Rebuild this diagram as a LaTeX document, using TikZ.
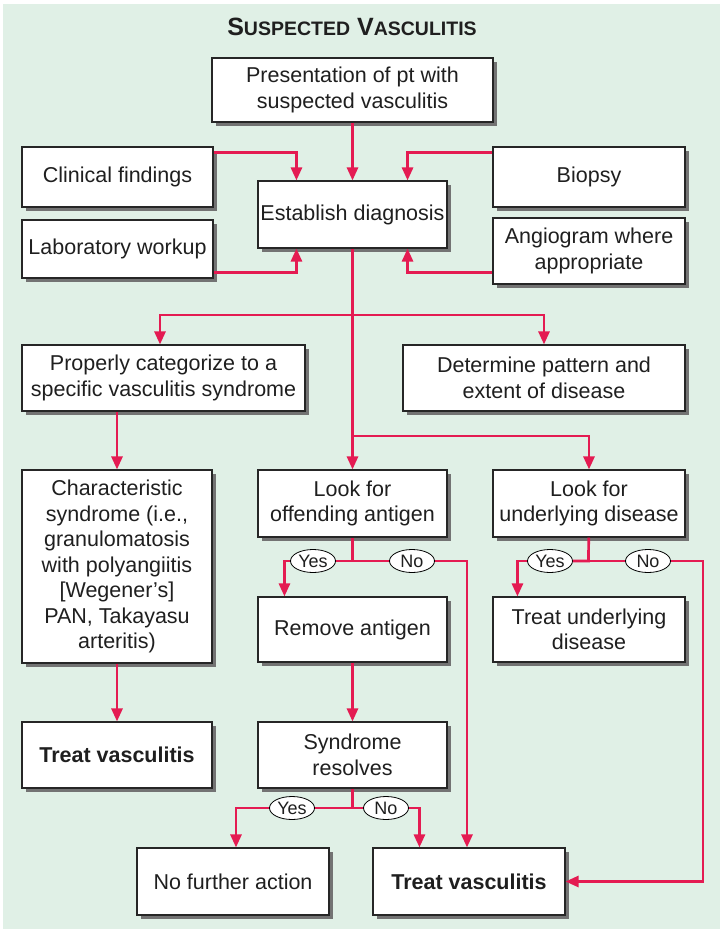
\documentclass[tikz,border=0pt]{standalone}
\usepackage{fontspec}
\setmainfont{Liberation Sans}
\usepackage{tikz}
\usetikzlibrary{shapes.geometric, arrows.meta, calc, shadows}
\definecolor{flowred}{RGB}{228,27,82}
\definecolor{panelgreen}{RGB}{224,240,230}
\tikzset{
    stepbox/.style={draw=black!85, fill=white, line width=1.1pt, align=center,
        minimum width=190pt, minimum height=66pt, inner sep=1pt, text=black!88,
        font=\fontsize{21.5}{25.5}\selectfont,
        drop shadow={shadow xshift=3.5pt, shadow yshift=-3.5pt, fill=black!55, opacity=1}},
    flow/.style={draw=flowred, line width=2.7pt, -{Triangle[length=13pt, width=11pt]}},
    trunk/.style={draw=flowred, line width=2.7pt},
    answer/.style={ellipse, draw=black, fill=white, line width=0.8pt, inner sep=0pt,
        minimum width=45pt, minimum height=23pt, text=black!88, font=\fontsize{18}{18}\selectfont}
}

\begin{document}
\begin{tikzpicture}[x=1pt, y=-1pt]
    \useasboundingbox (0,0) rectangle (723,935);
    \fill[panelgreen] (3,4) rectangle (720,929);

    \node[text=black!88] (title) at (352,27) {\bfseries\fontsize{25}{25}\selectfont S{\fontsize{19.5}{19.5}\selectfont USPECTED} V{\fontsize{19.5}{19.5}\selectfont ASCULITIS}};

    % boxes
    \node[stepbox, minimum width=281pt, minimum height=64pt] (pres) at (352.5,90) {Presentation of pt with\\suspected vasculitis};
    \node[stepbox, minimum width=191pt, minimum height=60pt] (clin) at (117.5,177) {Clinical findings};
    \node[stepbox, minimum width=191pt, minimum height=58pt] (lab) at (117.5,249) {Laboratory workup};
    \node[stepbox, minimum width=189pt, minimum height=67pt] (diag) at (352.5,214.5) {Establish diagnosis};
    \node[stepbox, minimum width=192pt, minimum height=60pt] (biopsy) at (589,177) {Biopsy};
    \node[stepbox, minimum width=192pt, minimum height=66pt] (angio) at (589,251) {Angiogram where\\appropriate};
    \node[stepbox, minimum width=283pt] (categ) at (163.5,378) {Properly categorize to a\\specific vasculitis syndrome};
    \node[stepbox, minimum width=282pt] (pattern) at (544,378) {Determine pattern and\\extent of disease};
    \node[stepbox, minimum height=193pt] (charac) at (117,566.5) {Characteristic\\syndrome (i.e.,\\granulomatosis\\with polyangiitis\\{[Wegener’s]}\\PAN, Takayasu\\arteritis)};
    \node[stepbox, minimum width=189pt, minimum height=67pt] (offend) at (352.5,503.5) {Look for\\offending antigen};
    \node[stepbox, minimum width=192pt, minimum height=67pt] (underl) at (589,503.5) {Look for\\underlying disease};
    \node[stepbox, minimum width=189pt, minimum height=65pt] (remove) at (352.5,629.5) {Remove antigen};
    \node[stepbox, minimum width=192pt, minimum height=65pt] (treatu) at (589,629.5) {Treat underlying\\disease};
    \node[stepbox] (treatl) at (117,755) {\bfseries Treat vasculitis};
    \node[stepbox, minimum width=189pt] (synd) at (352.5,755) {Syndrome\\resolves};
    \node[stepbox, minimum width=192pt, minimum height=67pt] (nofurther) at (233,881.5) {No further action};
    \node[stepbox, minimum width=192pt, minimum height=67pt] (treatb) at (469,881.5) {\bfseries Treat vasculitis};

    % yes / no forks
    \coordinate (split1) at (352.5,315);
    \coordinate (split2) at (352.5,436);
    \coordinate (fork1) at (352.5,561);
    \coordinate (fork2) at (588.5,561);
    \coordinate (fork3) at (352.5,808);
    \coordinate (rim) at (703,561);
    \node[answer] (yes1) at (313,561) {Yes};
    \node[answer] (no1) at (412,561) {No};
    \node[answer] (yes2) at (550,561) {Yes};
    \node[answer] (no2) at (648,561) {No};
    \node[answer] (yes3) at (292,808) {Yes};
    \node[answer] (no3) at (386,808) {No};

    % connectors
    \draw[flow] (pres) -- (diag);
    \draw[flow] ([yshift=-6pt]clin.north east) -| ([xshift=39pt]diag.north west);
    \draw[flow] ([yshift=6pt]lab.south east) -| ([xshift=39pt]diag.south west);
    \draw[flow] ([yshift=-6pt]biopsy.north west) -| ([xshift=-40pt]diag.north east);
    \draw[flow] ([yshift=12pt]angio.south west) -| ([xshift=-40pt]diag.south east);
    \draw[trunk] (diag) -- (split2);
    \draw[flow] (split1) -| ([xshift=-3.5pt]categ.north);
    \draw[flow] (split1) -| (pattern.north);
    \draw[flow] (split2) -- (offend);
    \draw[flow] (split2) -| (underl.north);
    \draw[flow] (charac.north |- categ.south) -- (charac);
    \draw[flow] (charac) -- (treatl);
    \draw[trunk] (offend) -- (fork1) -- (yes1);
    \draw[flow] (yes1) -| ([xshift=27pt]remove.north west);
    \draw[trunk] (fork1) -- (no1);
    \draw[flow] (no1) -| ([xshift=-2pt]treatb.north);
    \draw[flow] (remove) -- (synd);
    \draw[trunk] (synd) -- (fork3) -- (yes3);
    \draw[flow] (yes3) -| ([xshift=3pt]nofurther.north);
    \draw[trunk] (fork3) -- (no3);
    \draw[flow] (no3) -| ([xshift=47pt]treatb.north west);
    \draw[trunk] (underl) -- (fork2) -- (yes2);
    \draw[flow] (yes2) -| ([xshift=25pt]treatu.north west);
    \draw[trunk] (fork2) -- (no2);
    \draw[flow] (no2) -- (rim) |- (treatb.east);
\end{tikzpicture}
\end{document}
